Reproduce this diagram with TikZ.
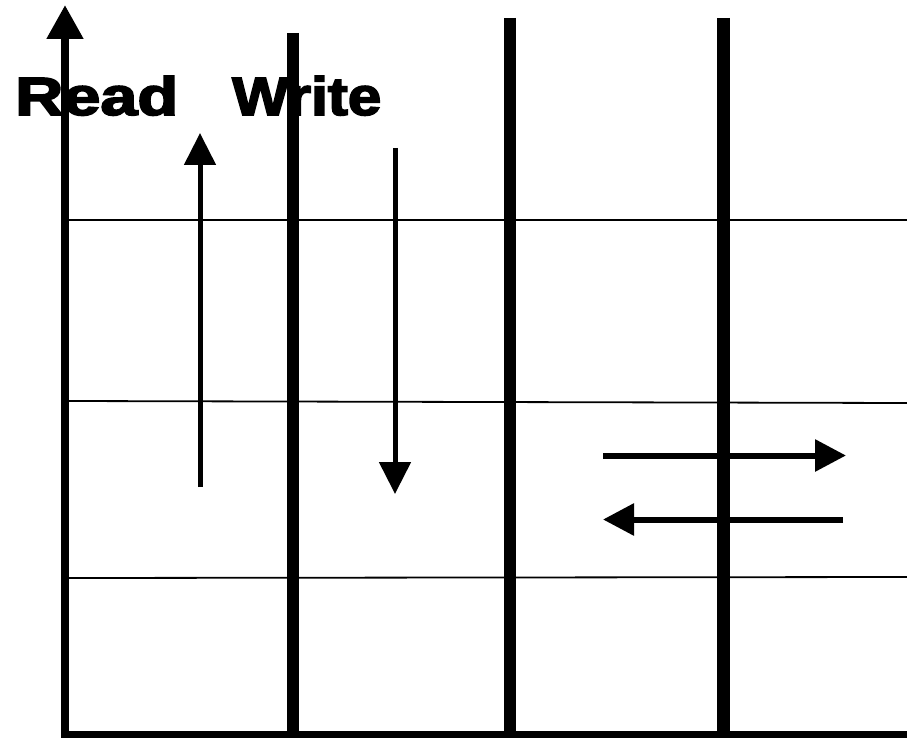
\documentclass[tikz,border=0pt]{standalone}
\usepackage{fontspec}
\setmainfont{Liberation Sans}
\newfontfamily\heavyfont{Liberation Sans Bold}[FakeBold=3]
\usepackage{graphicx}
\usetikzlibrary{arrows.meta}
\begin{document}
\begin{tikzpicture}[x=1pt,y=-1pt,
  axisline/.style={line width=8pt,line join=miter,-{Triangle[width=35pt,length=34pt]}},
  wall/.style={line width=12pt},
  gridline/.style={line width=1.8pt},
  vflow/.style={line width=5pt,-{Triangle[width=31pt,length=32pt]}},
  hflow/.style={line width=6pt,-{Triangle[width=31pt,length=31pt]}},
  lbl/.style={inner sep=0pt,anchor=base west}]
\useasboundingbox (0,0) rectangle (907,738);
% grid lines
\coordinate (g1a) at (66,220); \coordinate (g1b) at (907,220);
\coordinate (g2a) at (66,401); \coordinate (g2b) at (907,403);
\coordinate (g3a) at (66,578); \coordinate (g3b) at (907,577);
\draw[gridline] (g1a) -- (g1b);
\draw[gridline] (g2a) -- (g2b);
\draw[gridline] (g3a) -- (g3b);
% thick walls
\coordinate (w1t) at (293,33); \coordinate (w1b) at (293,735);
\coordinate (w2t) at (510,18); \coordinate (w2b) at (510,735);
\coordinate (w3t) at (723.5,18); \coordinate (w3b) at (723.5,735);
\draw[wall] (w1t) -- (w1b);
\draw[wall] (w2t) -- (w2b);
\draw[wall,line width=13pt] (w3t) -- (w3b);
% axes
\coordinate (ax) at (907,734.5);
\coordinate (o) at (65,734.5);
\coordinate (ay) at (65,5);
\draw[axisline] (ax) -- (o) -- (ay);
% labels
\node[lbl] (read) at (15,115) {\resizebox{163pt}{39pt}{\heavyfont Read}};
\node[lbl] (write) at (232,115) {\resizebox{149pt}{39pt}{\heavyfont Write}};
% flows
\coordinate (r1) at (200,487); \coordinate (r2) at (200,133);
\draw[vflow] (r1) -- (r2);
\coordinate (d1) at (395,148); \coordinate (d2) at (395,494);
\draw[vflow] (d1) -- (d2);
\coordinate (h1) at (603,455.5); \coordinate (h2) at (846,455.5);
\draw[hflow] (h1) -- (h2);
\coordinate (k1) at (843,519.5); \coordinate (k2) at (603,519.5);
\draw[hflow] (k1) -- (k2);
\end{tikzpicture}
\end{document}
